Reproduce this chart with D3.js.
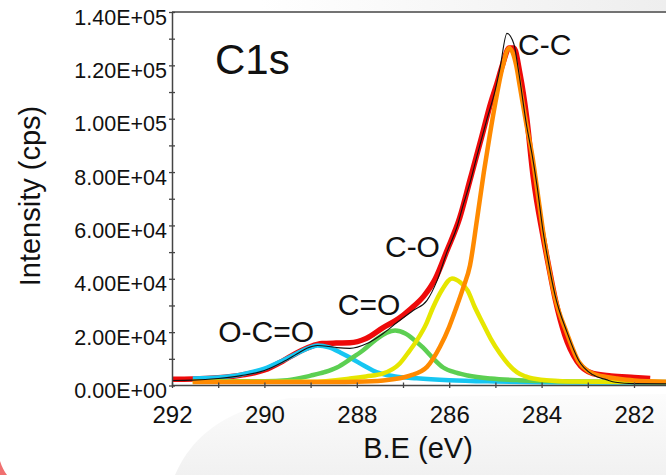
<!DOCTYPE html>
<html>
<head>
<meta charset="utf-8">
<script src="https://cdn.jsdelivr.net/npm/d3@7"></script>
<style>
  body { margin: 0; background: #fff; }
  svg { display: block; font-family: "Liberation Sans", Arial, sans-serif; }
</style>
</head>
<body>
<div id="chart"></div>
<script>
// binding energy (eV), intensity (cps)
var rawData = [
  [292.0, 2300], [291.55, 2400], [291.0, 2900], [290.5, 3900], [290.0, 5800],
  [289.6, 9200], [289.3, 12200], [289.0, 14600], [288.75, 15700], [288.45, 15900],
  [288.15, 16000], [287.8, 17600], [287.43, 21700], [287.1, 25000], [286.85, 28500],
  [286.55, 33500], [286.3, 40000], [286.05, 50500], [285.77, 63000], [285.55, 77000],
  [285.3, 93000], [285.1, 106000], [284.97, 113000], [284.85, 120000], [284.7, 126500],
  [284.6, 126500], [284.47, 117000], [284.32, 100000], [284.18, 78000], [283.97, 56000],
  [283.85, 45000], [283.7, 32000], [283.5, 19000], [283.23, 9000], [282.89, 4500],
  [282.5, 3600], [282.0, 3000], [281.65, 2600]
];

var envelope = [
  [292.0, 1900], [291.55, 2000], [291.0, 2600], [290.5, 3700], [290.0, 5600],
  [289.6, 8800], [289.3, 11800], [289.08, 14000], [288.85, 15000], [288.6, 14600],
  [288.43, 14200], [288.15, 13900], [287.78, 15700], [287.43, 19500], [287.13, 23600],
  [286.78, 28100], [286.48, 31900], [286.26, 39400], [286.05, 50000], [285.83, 59500],
  [285.7, 67500], [285.55, 76000], [285.4, 86000], [285.18, 100000], [285.0, 111000],
  [284.9, 119000], [284.75, 132000], [284.6, 128000], [284.5, 118000], [284.32, 97000],
  [284.2, 86000], [284.1, 75000], [283.97, 58000], [283.85, 46000], [283.71, 34000],
  [283.45, 20000], [283.2, 9500], [282.89, 4000], [282.6, 2200], [282.4, 1200],
  [282.0, 700], [281.0, 600]
];

var peakOCO = [
  [291.55, 2600], [291.0, 3000], [290.6, 3800], [290.3, 4900], [290.0, 6300],
  [289.6, 9400], [289.3, 12000], [289.05, 14000], [288.85, 15000], [288.6, 14300],
  [288.35, 12300], [288.15, 10500], [287.85, 7500], [287.56, 4900], [287.2, 3500],
  [286.7, 2700], [286.0, 2000], [285.0, 1500], [284.0, 1200], [283.0, 1100], [281.0, 1000]
];

var peakCdO = [
  [291.55, 1600], [290.0, 1600], [289.5, 2000], [289.0, 3700], [288.7, 5000],
  [288.43, 6750], [288.15, 9800], [287.87, 13100], [287.6, 17000], [287.35, 19800],
  [287.17, 20600], [286.95, 19500], [286.75, 17000], [286.57, 14250], [286.35, 10200],
  [286.13, 6750], [285.85, 4800], [285.6, 3750], [285.1, 2600], [284.5, 2000],
  [283.0, 1500], [281.0, 1300]
];

var peakCO = [
  [291.55, 1400], [289.0, 1400], [288.15, 2600], [287.8, 3400], [287.43, 4500],
  [287.07, 8250], [286.9, 12000], [286.7, 16900], [286.5, 23000], [286.35, 29250],
  [286.15, 36000], [285.94, 40100], [285.75, 38500], [285.6, 35600], [285.45, 29500],
  [285.27, 23250], [285.1, 17500], [284.9, 12000], [284.72, 8000], [284.53, 4900],
  [284.35, 3400], [284.19, 2600], [283.45, 1500], [281.0, 1200]
];

var peakCC = [
  [291.55, 1300], [288.5, 1300], [288.0, 1400], [287.43, 1900], [286.85, 3700],
  [286.48, 7000], [286.2, 14500], [286.0, 22000], [285.85, 29000], [285.7, 36500],
  [285.55, 45000], [285.4, 62000], [285.25, 80000], [285.12, 94000], [285.0, 106000],
  [284.85, 119000], [284.7, 126500], [284.55, 120000], [284.47, 112000], [284.32, 97000],
  [284.2, 86000], [284.1, 74000], [283.97, 58000], [283.85, 45000], [283.71, 33000],
  [283.45, 19500], [283.2, 9000], [283.0, 5500], [282.89, 4500], [282.6, 3200],
  [282.37, 2600], [282.0, 1900], [281.0, 1300]
];

var yMajor = [0, 20000, 40000, 60000, 80000, 100000, 120000, 140000];
var yMinor = [10000, 30000, 50000, 70000, 90000, 110000, 130000];
var xTicks = [292, 291, 290, 289, 288, 287, 286, 285, 284, 283, 282];

var W = 666, H = 475;
var svg = d3.select("#chart").append("svg")
  .attr("width", W)
  .attr("height", H);

// slide background bits
var defs = svg.append("defs");
var g1 = defs.append("linearGradient").attr("id", "topfade").attr("x1", 0).attr("x2", 1);
g1.append("stop").attr("offset", 0).attr("stop-color", "#fff");
g1.append("stop").attr("offset", 1).attr("stop-color", "#eeeeee");
var g2 = defs.append("linearGradient").attr("id", "botfade").attr("x1", 0).attr("x2", 0).attr("y1", 0).attr("y2", 1);
g2.append("stop").attr("offset", 0).attr("stop-color", "#fcfcfc");
g2.append("stop").attr("offset", 1).attr("stop-color", "#f1f1f1");

svg.append("rect").attr("width", W).attr("height", H).attr("fill", "#fff");
svg.append("rect").attr("x", 260).attr("y", 0).attr("width", W - 260).attr("height", 11).attr("fill", "url(#topfade)");
svg.append("path")
  .attr("d", "M175,475 C190,440 220,410 290,398 L666,394 L666,475 Z")
  .attr("fill", "url(#botfade)");
svg.append("path")
  .attr("d", "M0,461 C2,467 4,471 7,475 L0,475 Z")
  .attr("fill", "#f07070");

var x = d3.scaleLinear().domain([292, 282]).range([172, 634]);
var y = d3.scaleLinear().domain([0, 140000]).range([385.5, 12]);

function sci(v) {
  if (v === 0) return "0.00E+00";
  var e = Math.floor(Math.log10(v));
  var m = v / Math.pow(10, e);
  return m.toFixed(2) + "E+" + (e < 10 ? "0" : "") + e;
}

// frame top line
svg.append("line")
  .attr("x1", 172).attr("x2", W)
  .attr("y1", y(140000)).attr("y2", y(140000))
  .attr("stroke", "#444").attr("stroke-width", 1.5);

var line = d3.line()
  .x(function(d) { return x(d[0]); })
  .y(function(d) { return y(d[1]); })
  .curve(d3.curveMonotoneX);

var plot = svg.append("g");

plot.append("path").datum(rawData)
  .attr("d", line).attr("fill", "none")
  .attr("stroke", "#ee0a0a").attr("stroke-width", 5.5).attr("stroke-linejoin", "round");

var comps = [
  { data: peakOCO, color: "#16c6f2" },
  { data: peakCdO, color: "#5ccf52" },
  { data: peakCO, color: "#e6e600" },
  { data: peakCC, color: "#ff8a00" }
];
comps.forEach(function(c) {
  plot.append("path").datum(c.data)
    .attr("d", line).attr("fill", "none")
    .attr("stroke", c.color).attr("stroke-width", 4.5).attr("stroke-linejoin", "round");
});

plot.append("path").datum(envelope)
  .attr("d", line).attr("fill", "none")
  .attr("stroke", "#111").attr("stroke-width", 1.1);

// y axis
var yAxis = svg.append("g")
  .attr("transform", "translate(172,0)")
  .call(d3.axisLeft(y).tickValues(yMajor.concat(yMinor)).tickSize(0).tickPadding(5)
    .tickFormat(function(d) { return yMajor.indexOf(d) >= 0 ? sci(d) : ""; }));
yAxis.select(".domain").attr("stroke", "#444").attr("stroke-width", 1.5);
yAxis.selectAll(".tick line").attr("x1", -3).attr("x2", 3).attr("stroke", "#444").attr("stroke-width", 1.3);
yAxis.selectAll(".tick text")
  .attr("font-size", 21.5).attr("fill", "#111").attr("dy", "0.56em")
  .attr("font-family", "Liberation Sans, Arial, sans-serif");

// x axis
var xAxis = svg.append("g")
  .attr("transform", "translate(0," + y(0) + ")")
  .call(d3.axisBottom(x).tickValues(xTicks).tickSize(0).tickSizeOuter(0)
    .tickFormat(function(d) { return d % 2 === 0 ? d : ""; }));
xAxis.select(".domain").attr("stroke", "#444").attr("stroke-width", 1.5)
  .attr("d", "M172,0H" + W);
xAxis.selectAll(".tick line").attr("y1", -3).attr("y2", 2.5).attr("stroke", "#444").attr("stroke-width", 1.3);
xAxis.selectAll(".tick text")
  .attr("font-size", 24).attr("fill", "#111").attr("y", 20.5)
  .attr("font-family", "Liberation Sans, Arial, sans-serif");

// axis titles
svg.append("text")
  .attr("transform", "translate(40,196) rotate(-90)")
  .attr("text-anchor", "middle")
  .attr("font-size", 29).attr("fill", "#111")
  .text("Intensity (cps)");

svg.append("text")
  .attr("x", 418).attr("y", 458)
  .attr("text-anchor", "middle")
  .attr("font-size", 29).attr("fill", "#111")
  .text("B.E (eV)");

// annotations
svg.append("text").attr("x", 215).attr("y", 74)
  .attr("font-size", 42).attr("fill", "#111").text("C1s");

var notes = [
  { t: "C-C", be: 284.51, v: 123900 },
  { t: "C-O", be: 287.39, v: 48200 },
  { t: "C=O", be: 288.41, v: 26400 },
  { t: "O-C=O", be: 291.0, v: 16300 }
];
notes.forEach(function(n) {
  svg.append("text")
    .attr("x", x(n.be)).attr("y", y(n.v))
    .attr("font-size", 30).attr("fill", "#111")
    .text(n.t);
});
</script>
</body>
</html>
